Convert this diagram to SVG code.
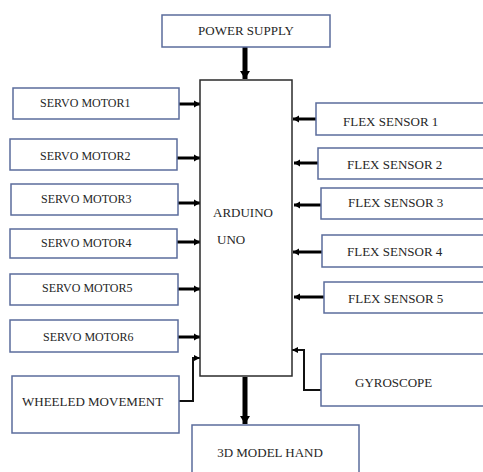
<svg xmlns="http://www.w3.org/2000/svg" width="483" height="472" viewBox="0 0 483 472">
<style>
.box{fill:#fff;stroke:#5b6c9c;stroke-width:1.5}
.main{fill:#fff;stroke:#2b2b2b;stroke-width:1.5}
text{font-family:"Liberation Serif","DejaVu Serif","Times New Roman",serif;fill:#262626}
.t13{font-size:13px}
.t12{font-size:12px}
.thick{stroke:#000;stroke-width:5;fill:none}
.med{stroke:#000;stroke-width:3;fill:none}
.thin{stroke:#111;stroke-width:2;fill:none}
</style>
<defs>
<marker id="aBig" markerUnits="userSpaceOnUse" markerWidth="12" markerHeight="12" refX="8" refY="6" orient="auto">
<path d="M0,1 L8,6 L0,11 Z" fill="#000"/>
</marker>
<marker id="aMed" markerUnits="userSpaceOnUse" markerWidth="8" markerHeight="8" refX="6" refY="4" orient="auto">
<path d="M0,0.5 L6,4 L0,7.5 Z" fill="#000"/>
</marker>
<marker id="aSm" markerUnits="userSpaceOnUse" markerWidth="8" markerHeight="8" refX="6" refY="4" orient="auto">
<path d="M0,1 L6,4 L0,7 Z" fill="#000"/>
</marker>
</defs>

<g id="connectors">
<line class="thick" x1="245" y1="47" x2="245" y2="79" marker-end="url(#aBig)"/>
<line class="thick" x1="245" y1="377" x2="245" y2="424" marker-end="url(#aBig)"/>
<line class="med" x1="179" y1="104" x2="200" y2="104" marker-end="url(#aMed)"/>
<line class="med" x1="177" y1="158" x2="200" y2="158" marker-end="url(#aMed)"/>
<line class="med" x1="178" y1="203" x2="200" y2="203" marker-end="url(#aMed)"/>
<line class="med" x1="177" y1="242" x2="200" y2="242" marker-end="url(#aMed)"/>
<line class="med" x1="178" y1="289" x2="200" y2="289" marker-end="url(#aMed)"/>
<line class="med" x1="178" y1="337" x2="200" y2="337" marker-end="url(#aMed)"/>
<line class="med" x1="316" y1="119" x2="293" y2="119" marker-end="url(#aMed)"/>
<line class="med" x1="318" y1="163" x2="294" y2="163" marker-end="url(#aMed)"/>
<line class="med" x1="321" y1="205" x2="294" y2="205" marker-end="url(#aMed)"/>
<line class="med" x1="322" y1="252" x2="293" y2="252" marker-end="url(#aMed)"/>
<line class="med" x1="324" y1="297" x2="294" y2="297" marker-end="url(#aMed)"/>
<polyline class="thin" points="179,401 193,401 193,358 200,358" marker-end="url(#aSm)"/>
<polyline class="thin" points="321,390 304,390 304,350 292,350" marker-end="url(#aSm)"/>
</g>

<g id="power-supply">
<rect class="box" x="162" y="15" width="168" height="32"/>
<text class="t13" x="246" y="35" text-anchor="middle">POWER SUPPLY</text>
</g>

<g id="arduino-uno">
<rect class="main" x="200" y="80" width="92" height="296"/>
<text class="t13" x="213" y="217">ARDUINO</text>
<text class="t13" x="217" y="244">UNO</text>
</g>

<g id="servo-motor1">
<rect class="box" x="13" y="88" width="166" height="31"/>
<text class="t12" x="40" y="107">SERVO MOTOR1</text>
</g>
<g id="servo-motor2">
<rect class="box" x="10" y="139" width="167" height="31"/>
<text class="t12" x="40" y="160">SERVO MOTOR2</text>
</g>
<g id="servo-motor3">
<rect class="box" x="11" y="184" width="167" height="31"/>
<text class="t12" x="41" y="203">SERVO MOTOR3</text>
</g>
<g id="servo-motor4">
<rect class="box" x="10" y="229" width="167" height="29"/>
<text class="t12" x="41" y="247">SERVO MOTOR4</text>
</g>
<g id="servo-motor5">
<rect class="box" x="10" y="274" width="168" height="31"/>
<text class="t12" x="42" y="292">SERVO MOTOR5</text>
</g>
<g id="servo-motor6">
<rect class="box" x="10" y="320" width="168" height="32"/>
<text class="t12" x="43" y="341">SERVO MOTOR6</text>
</g>

<g id="wheeled-movement">
<rect class="box" x="12" y="376" width="167" height="57"/>
<text class="t13" x="22" y="406">WHEELED MOVEMENT</text>
</g>

<g id="flex-sensor-1">
<rect class="box" x="316" y="103" width="175" height="32"/>
<text class="t13" x="343" y="126">FLEX SENSOR 1</text>
</g>
<g id="flex-sensor-2">
<rect class="box" x="318" y="148" width="173" height="31"/>
<text class="t13" x="347" y="169">FLEX SENSOR 2</text>
</g>
<g id="flex-sensor-3">
<rect class="box" x="321" y="188" width="170" height="31"/>
<text class="t13" x="348" y="207">FLEX SENSOR 3</text>
</g>
<g id="flex-sensor-4">
<rect class="box" x="322" y="235" width="169" height="32"/>
<text class="t13" x="347" y="256">FLEX SENSOR 4</text>
</g>
<g id="flex-sensor-5">
<rect class="box" x="324" y="282" width="167" height="31"/>
<text class="t13" x="348" y="303">FLEX SENSOR 5</text>
</g>

<g id="gyroscope">
<rect class="box" x="321" y="354" width="170" height="52"/>
<text class="t13" x="355" y="387">GYROSCOPE</text>
</g>

<g id="model-hand">
<rect class="box" x="192" y="425" width="167" height="55"/>
<text class="t13" x="270" y="457" text-anchor="middle">3D MODEL HAND</text>
</g>
</svg>
